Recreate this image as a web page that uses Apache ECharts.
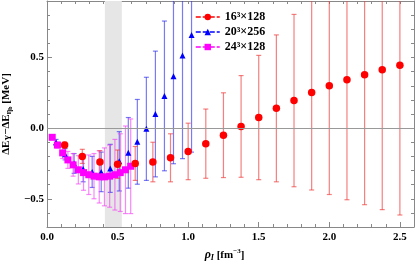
<!DOCTYPE html>
<html><head><meta charset="utf-8">
<script src="https://cdn.jsdelivr.net/npm/echarts@6/dist/echarts.min.js"></script>
<style>html,body{margin:0;padding:0;background:#fff}#c{width:415px;height:265px}</style>
</head><body><div id="c"></div>
<script>
// ---- data ----
const seriesNames = ['16³×128', '20³×256', '24³×128'];
const redRho = [0.125,0.25,0.375,0.5,0.625,0.75,0.875,1.0,1.125,1.25,1.375,1.5,1.625,1.75,1.875,2.0,2.125,2.25,2.375,2.5];
const redVal = [-0.12,-0.20,-0.24,-0.255,-0.25,-0.24,-0.21,-0.165,-0.11,-0.05,0.012,0.075,0.14,0.195,0.252,0.30,0.343,0.378,0.413,0.445];
const redErr = [0.02,0.05,0.08,0.10,0.12,0.14,0.17,0.20,0.245,0.30,0.36,0.44,0.52,0.61,0.69,0.77,0.85,0.92,0.99,1.06];
const blueRho = [0.064,0.128,0.192,0.256,0.320,0.384,0.448,0.512,0.576,0.640,0.704,0.768,0.832,0.896,0.960,1.024];
const blueVal = [-0.10,-0.185,-0.25,-0.29,-0.31,-0.31,-0.285,-0.235,-0.175,-0.097,-0.005,0.10,0.228,0.368,0.514,0.66];
const blueErr = [0.02,0.04,0.07,0.09,0.11,0.14,0.17,0.21,0.25,0.30,0.365,0.445,0.53,0.62,0.73,0.83];
const magRho = [0.037,0.074,0.111,0.148,0.185,0.222,0.259,0.296,0.333,0.370,0.407,0.444,0.481,0.519,0.556,0.593];
const magVal = [-0.065,-0.12,-0.175,-0.225,-0.26,-0.295,-0.315,-0.33,-0.34,-0.345,-0.345,-0.34,-0.33,-0.315,-0.295,-0.27];
const magErr = [0.01,0.02,0.04,0.06,0.08,0.10,0.125,0.14,0.16,0.185,0.205,0.22,0.25,0.275,0.31,0.335];
const xTickLabels = [0, 0.5, 1.0, 1.5, 2.0, 2.5];
const yTickLabels = [-0.5, 0, 0.5];
const bandRange = [0.41, 0.53];
const zeroLine = 0;

// ---- helpers ----
const FONT = 'Liberation Serif';
const fmt = v => (v < 0 ? '\u2212' + Math.abs(v).toFixed(1) : Math.abs(v).toFixed(1));
function pts(r, v) { return r.map((x, i) => [x, v[i]]); }
function bars(r, v, e) { return r.map((x, i) => [x, v[i] - e[i], v[i] + e[i]]); }
function errRender(color) {
  return function (params, api) {
    const x = api.value(0), lo = api.value(1), hi = api.value(2);
    const cs = params.coordSys;
    const p1 = api.coord([x, lo]), p2 = api.coord([x, hi]);
    const top = cs.y, bot = cs.y + cs.height;
    const yHi = Math.max(p2[1], top), yLo = Math.min(p1[1], bot);
    const cw = 2.5;
    const st = { stroke: color, lineWidth: 1.2 };
    const ch = [{ type: 'line', shape: { x1: p1[0], y1: yLo, x2: p1[0], y2: yHi }, style: st }];
    if (p2[1] >= top) ch.push({ type: 'line', shape: { x1: p2[0] - cw, y1: p2[1], x2: p2[0] + cw, y2: p2[1] }, style: st });
    if (p1[1] <= bot) ch.push({ type: 'line', shape: { x1: p1[0] - cw, y1: p1[1], x2: p1[0] + cw, y2: p1[1] }, style: st });
    return { type: 'group', children: ch };
  };
}
const axisGray = '#888';
const lblStyle = { fontFamily: FONT, fontWeight: 'bold', fontSize: 11, color: '#000' };

const chart = echarts.init(document.getElementById('c'), null, { renderer: 'canvas' });
chart.setOption({
  animation: false,
  grid: { left: 47, right: 1, top: 1, bottom: 38, outerBoundsMode: 'none' },
  legend: {
    orient: 'vertical', left: 190, top: 6, itemWidth: 24, itemHeight: 8, itemGap: 3,
    data: seriesNames,
    lineStyle: { opacity: 1, width: 1.5, type: [5, 2] },
    textStyle: { fontFamily: FONT, fontWeight: 'bold', fontSize: 12, color: '#000' }
  },
  xAxis: [
    { type: 'value', min: 0, max: 2.6, position: 'bottom',
      axisLine: { onZero: false, lineStyle: { color: axisGray } },
      axisTick: { inside: true, length: 5, customValues: xTickLabels, lineStyle: { color: axisGray } },
      axisLabel: Object.assign({ customValues: xTickLabels, formatter: fmt, margin: 5 }, lblStyle),
      splitLine: { show: false },
      name: '{i|ρ}{s|I}{b| [fm}{p|−3}{b|]}', nameLocation: 'middle', nameGap: 19,
      nameTextStyle: { fontFamily: FONT, fontWeight: 'bold', fontSize: 11, color: '#000', padding: [0, 0, 0, -12],
        rich: { i: { fontFamily: FONT, fontStyle: 'italic', fontWeight: 'bold', fontSize: 12 },
                s: { fontFamily: FONT, fontStyle: 'italic', fontWeight: 'bold', fontSize: 8, verticalAlign: 'bottom', padding: [6, 0, 0, 0] },
                b: { fontFamily: FONT, fontWeight: 'bold', fontSize: 11 },
                p: { fontFamily: FONT, fontWeight: 'bold', fontSize: 7, verticalAlign: 'top', padding: [0, 0, 6, 0] } } } },
    { type: 'value', min: 0, max: 2.6, interval: 0.1, position: 'bottom',
      axisLine: { show: false, onZero: false }, axisTick: { inside: true, length: 3, lineStyle: { color: axisGray } },
      axisLabel: { show: false }, splitLine: { show: false } },
    { type: 'value', min: 0, max: 2.6, interval: 0.1, position: 'top',
      axisLine: { onZero: false, lineStyle: { color: axisGray } }, axisTick: { inside: true, length: 3, lineStyle: { color: axisGray } },
      axisLabel: { show: false }, splitLine: { show: false } }
  ],
  yAxis: [
    { type: 'value', min: -0.7, max: 0.9, position: 'left',
      axisLine: { onZero: false, lineStyle: { color: axisGray } },
      axisTick: { inside: true, length: 5, customValues: yTickLabels, lineStyle: { color: axisGray } },
      axisLabel: Object.assign({ customValues: yTickLabels, formatter: fmt, margin: 3 }, lblStyle),
      splitLine: { show: false },
      name: '{b|ΔE}{s|Υ}{b|−ΔE}{s|η}{t|b}{b| [MeV]}', nameLocation: 'middle', nameGap: 29, nameRotate: 90,
      nameTextStyle: { fontFamily: FONT, fontWeight: 'bold', fontSize: 11, color: '#000',
        rich: { b: { fontFamily: FONT, fontWeight: 'bold', fontSize: 11 },
                s: { fontFamily: FONT, fontWeight: 'bold', fontSize: 8, verticalAlign: 'bottom', padding: [6, 0, 0, 0] },
                t: { fontFamily: FONT, fontWeight: 'bold', fontSize: 6, verticalAlign: 'bottom', padding: [8, 0, 0, 0] } } } },
    { type: 'value', min: -0.7, max: 0.9, interval: 0.1, position: 'left',
      axisLine: { show: false, onZero: false }, axisTick: { inside: true, length: 3, lineStyle: { color: axisGray } },
      axisLabel: { show: false }, splitLine: { show: false } },
    { type: 'value', min: -0.7, max: 0.9, interval: 0.1, position: 'right',
      axisLine: { onZero: false, lineStyle: { color: axisGray } }, axisTick: { inside: true, length: 3, lineStyle: { color: axisGray } },
      axisLabel: { show: false }, splitLine: { show: false } }
  ],
  series: [
    { name: 'band', type: 'line', data: [], z: 0, silent: true,
      markArea: { silent: true, itemStyle: { color: '#e6e6e6' }, data: [[{ xAxis: bandRange[0] }, { xAxis: bandRange[1] }]] },
      markLine: { silent: true, symbol: 'none', label: { show: false }, lineStyle: { color: '#999', width: 1, type: 'solid' }, data: [{ yAxis: zeroLine }] } },
    { name: 'errB', type: 'custom', z: 2, renderItem: errRender('rgba(50,50,240,0.65)'), data: bars(blueRho, blueVal, blueErr), encode: { x: 0, y: [1, 2] } },
    { name: 'errM', type: 'custom', z: 2, renderItem: errRender('rgba(245,70,245,0.65)'), data: bars(magRho, magVal, magErr), encode: { x: 0, y: [1, 2] } },
    { name: 'errR', type: 'custom', z: 2, renderItem: errRender('rgba(240,60,60,0.65)'), data: bars(redRho, redVal, redErr), encode: { x: 0, y: [1, 2] } },
    { name: seriesNames[1], type: 'line', z: 3, color: '#0000ff', symbol: 'triangle', symbolSize: 6, showSymbol: true,
      lineStyle: { opacity: 0 }, data: pts(blueRho, blueVal) },
    { name: seriesNames[2], type: 'line', z: 3, color: '#ff00ff', symbol: 'rect', symbolSize: 7, showSymbol: true,
      lineStyle: { opacity: 0 }, data: pts(magRho, magVal) },
    { name: seriesNames[0], type: 'line', z: 4, color: '#ff0000', symbol: 'circle', symbolSize: 7.5, showSymbol: true,
      lineStyle: { opacity: 0 }, data: pts(redRho, redVal) }
  ]
});
</script></body></html>
